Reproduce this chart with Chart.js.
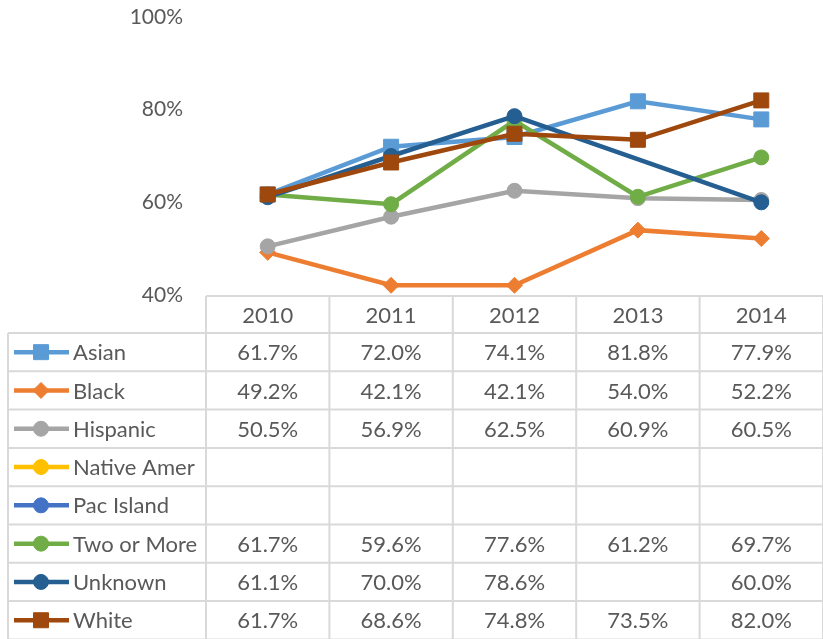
<!DOCTYPE html>
<html>
<head>
<meta charset="utf-8">
<script src="https://cdn.jsdelivr.net/npm/chart.js@4.4.0/dist/chart.umd.min.js"></script>
<style>
    html, body { margin: 0; padding: 0; background: #fff; }
</style>
</head>
<body>
<canvas id="rateChart" width="823" height="639"></canvas>
<script>
// ========== data ==========
const years = ['2010', '2011', '2012', '2013', '2014'];
const groups = ['Asian', 'Black', 'Hispanic', 'Native Amer', 'Pac Island', 'Two or More', 'Unknown', 'White'];

const asian      = [61.7, 72.0, 74.1, 81.8, 77.9];
const black      = [49.2, 42.1, 42.1, 54.0, 52.2];
const hispanic   = [50.5, 56.9, 62.5, 60.9, 60.5];
const nativeAmer = [null, null, null, null, null];
const pacIsland  = [null, null, null, null, null];
const twoOrMore  = [61.7, 59.6, 77.6, 61.2, 69.7];
const unknown    = [61.1, 70.0, 78.6, null, 60.0];
const white      = [61.7, 68.6, 74.8, 73.5, 82.0];

const yTicks = [40, 60, 80, 100];

// ========== styles ==========
const seriesValues = [asian, black, hispanic, nativeAmer, pacIsland, twoOrMore, unknown, white];
const colors = ['#5B9BD5', '#ED7D31', '#A5A5A5', '#FFC000', '#4472C4', '#70AD47', '#255E91', '#9E480E'];
const shapes = ['rect', 'rectRot', 'circle', 'circle', 'circle', 'circle', 'circle', 'rect'];
const radii  = [10.6, 8, 7.5, 7.5, 7.5, 7.5, 7.5, 10.6];

const FONT = 'Lato, "Noto Sans", sans-serif';
const AXIS_FONT_SIZE = 21;
const TABLE_FONT_SIZE = 22;
const TEXT_COLOR = '#595959';
const GRID_COLOR = '#D9D9D9';
const TABLE_LEFT = 8;
const HEAD_H = 37;
const ROW_H = 38.3;

/**
 * data table under the plot (header years + one row per group)
 */
const dataTable = {
    id: 'dataTable',
    afterDraw(c) {
        const ctx = c.ctx;
        const xs = c.scales.x;
        const area = c.chartArea;
        const colW = area.width / years.length;
        const top = area.bottom + 1;
        const headBottom = top + HEAD_H;
        const bottom = headBottom + ROW_H * groups.length;
        const right = area.right;

        ctx.save();
        ctx.strokeStyle = GRID_COLOR;
        ctx.lineWidth = 2;
        ctx.beginPath();
        // top line (axis line)
        ctx.moveTo(area.left, top);
        ctx.lineTo(right, top);
        // row lines
        for (let r = 0; r <= groups.length; r++) {
            const y = headBottom + r * ROW_H;
            ctx.moveTo(TABLE_LEFT, y);
            ctx.lineTo(right, y);
        }
        // column lines
        ctx.moveTo(TABLE_LEFT, headBottom);
        ctx.lineTo(TABLE_LEFT, bottom);
        for (let i = 0; i <= years.length; i++) {
            const x = area.left + i * colW;
            ctx.moveTo(x, top);
            ctx.lineTo(x, bottom);
        }
        ctx.stroke();

        ctx.font = TABLE_FONT_SIZE + 'px ' + FONT;
        ctx.fillStyle = TEXT_COLOR;
        ctx.textBaseline = 'middle';
        ctx.textAlign = 'center';
        years.forEach((yr, i) => {
            ctx.fillText(yr, xs.getPixelForValue(i), top + HEAD_H / 2 + 1);
        });

        groups.forEach((name, r) => {
            const cy = headBottom + r * ROW_H + ROW_H / 2 + 1;
            // legend key
            ctx.strokeStyle = colors[r];
            ctx.lineWidth = 4.5;
            ctx.beginPath();
            ctx.moveTo(14, cy - 1);
            ctx.lineTo(69, cy - 1);
            ctx.stroke();
            ctx.fillStyle = colors[r];
            ctx.strokeStyle = colors[r];
            ctx.lineWidth = 1;
            Chart.helpers.drawPoint(ctx, { pointStyle: shapes[r], radius: radii[r], rotation: 0, borderWidth: 1 }, 41, cy - 1);

            ctx.fillStyle = TEXT_COLOR;
            ctx.textAlign = 'left';
            ctx.fillText(name, 73, cy);
            ctx.textAlign = 'center';
            seriesValues[r].forEach((v, i) => {
                if (v === null) return;
                ctx.fillText(v.toFixed(1) + '%', xs.getPixelForValue(i), cy);
            });
        });
        ctx.restore();
    }
};

// ========== chart ==========
const ctx = document.getElementById('rateChart').getContext('2d');
const chart = new Chart(ctx, {
    type: 'line',
    data: {
        labels: years,
        datasets: groups.map((name, i) => ({
            label: name,
            data: seriesValues[i],
            borderColor: colors[i],
            backgroundColor: colors[i],
            borderWidth: 4.5,
            tension: 0,
            pointStyle: shapes[i],
            pointRadius: radii[i],
            pointBackgroundColor: colors[i],
            pointBorderColor: colors[i],
            pointBorderWidth: 1,
            spanGaps: true,
            order: groups.length - i
        }))
    },
    options: {
        responsive: false,
        animation: false,
        devicePixelRatio: 1,
        layout: {
            autoPadding: false,
            padding: { left: 0, right: -6, top: 17, bottom: 344 }
        },
        plugins: {
            legend: { display: false },
            tooltip: { enabled: false }
        },
        scales: {
            x: {
                display: false,
                offset: true
            },
            y: {
                min: 40,
                max: 100,
                afterBuildTicks: axis => { axis.ticks = yTicks.map(v => ({ value: v })); },
                afterFit: axis => {
                    axis.width = 206;
                    axis.paddingTop = 0;
                    axis.paddingBottom = 0;
                },
                grid: { display: false, drawTicks: false },
                border: { display: false },
                ticks: {
                    padding: 23,
                    color: TEXT_COLOR,
                    font: { family: FONT, size: AXIS_FONT_SIZE },
                    callback: v => v + '%'
                }
            }
        }
    },
    plugins: [dataTable]
});
</script>
</body>
</html>
